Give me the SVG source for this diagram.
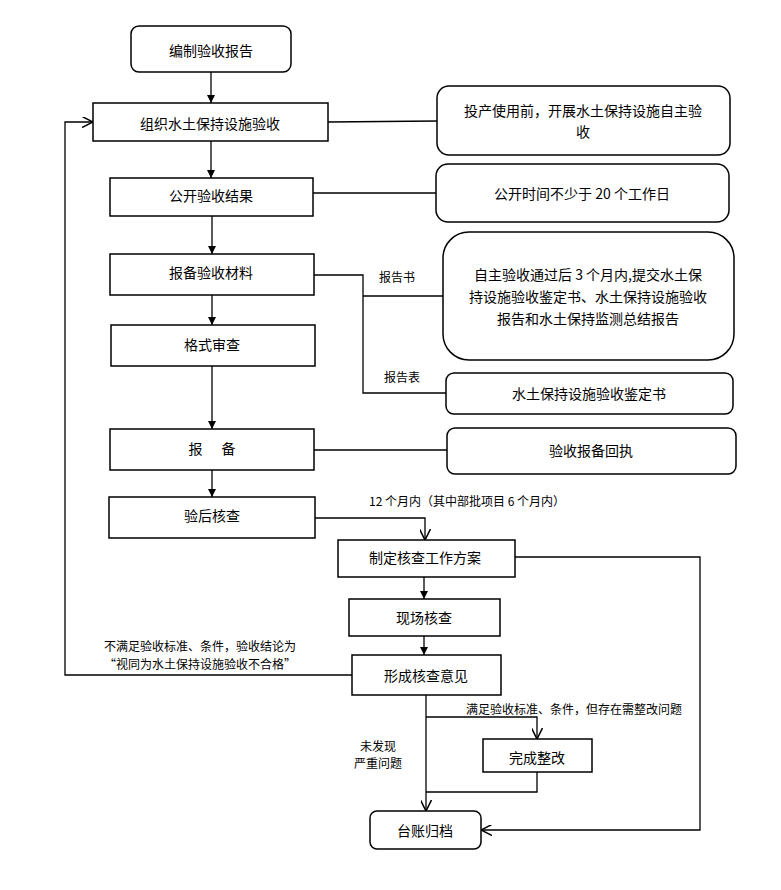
<svg xmlns="http://www.w3.org/2000/svg" width="781" height="890" viewBox="0 0 781 890">
<defs>
<marker id="fa" viewBox="0 0 10 10" refX="10" refY="5" markerWidth="8" markerHeight="8" markerUnits="userSpaceOnUse" orient="auto"><path d="M0,0 L10,5 L0,10 z" fill="#000"/></marker>
<marker id="oa" viewBox="0 0 10 10" refX="10" refY="5" markerWidth="11" markerHeight="11" markerUnits="userSpaceOnUse" orient="auto"><path d="M0,0 L10,5 L0,10" fill="none" stroke="#000" stroke-width="1.4"/></marker>
</defs>
<style>
rect{fill:#fff;stroke:#000;stroke-width:1.5}
text{font-family:"Noto Sans CJK SC","Liberation Sans",sans-serif;font-size:14px;fill:#000;text-anchor:middle;dominant-baseline:central}
.s{font-size:12px}
.l{fill:none;stroke:#000;stroke-width:1.3}
</style>
<rect width="781" height="890" style="fill:#fff;stroke:none"/>
<g id="n1"><rect x="131" y="26" width="160" height="46" rx="8"/><text x="211" y="50">编制验收报告</text></g>
<g id="n2"><rect x="93" y="103" width="235" height="38"/><text x="210" y="123">组织水土保持设施验收</text></g>
<g id="r1"><rect x="437" y="86" width="293" height="69" rx="12"/><text x="583" y="110">投产使用前，开展水土保持设施自主验</text><text x="583" y="131">收</text></g>
<g id="n3"><rect x="110" y="178" width="203" height="38"/><text x="211" y="195">公开验收结果</text></g>
<g id="r2"><rect x="436" y="164" width="293" height="58" rx="12"/><text x="582" y="193">公开时间不少于 20 个工作日</text></g>
<g id="n4"><rect x="110" y="254" width="204" height="41"/><text x="211" y="272">报备验收材料</text></g>
<g id="r3"><rect x="443" y="232" width="291" height="128" rx="26"/><text x="588" y="274">自主验收通过后 3 个月内,提交水土保</text><text x="588" y="296">持设施验收鉴定书、水土保持设施验收</text><text x="588" y="318">报告和水土保持监测总结报告</text></g>
<g id="n5"><rect x="111" y="325" width="204" height="41"/><text x="212" y="344">格式审查</text></g>
<g id="r4"><rect x="446" y="373" width="287" height="41" rx="8"/><text x="589" y="393">水土保持设施验收鉴定书</text></g>
<g id="n6"><rect x="110" y="429" width="204" height="41"/><text x="212" y="448" xml:space="preserve">报      备</text></g>
<g id="r5"><rect x="447" y="428" width="289" height="46" rx="8"/><text x="591" y="450">验收报备回执</text></g>
<g id="n7"><rect x="109" y="497" width="206" height="41"/><text x="212" y="515">验后核查</text></g>
<g id="n8"><rect x="338" y="540" width="177" height="37"/><text x="425" y="557">制定核查工作方案</text></g>
<g id="n9"><rect x="349" y="599" width="151" height="37"/><text x="424" y="617">现场核查</text></g>
<g id="n10"><rect x="352" y="655" width="149" height="40"/><text x="426" y="675">形成核查意见</text></g>
<g id="n11"><rect x="483" y="739" width="109" height="33"/><text x="537" y="757">完成整改</text></g>
<g id="n12"><rect x="370" y="811" width="111" height="38" rx="7"/><text x="425" y="830">台账归档</text></g>
<g id="connectors">
<path class="l" d="M211,72 V103" marker-end="url(#fa)"/>
<path class="l" d="M211,141 V178" marker-end="url(#fa)"/>
<path class="l" d="M212,216 V254" marker-end="url(#fa)"/>
<path class="l" d="M212,295 V325" marker-end="url(#fa)"/>
<path class="l" d="M212,366 V429" marker-end="url(#fa)"/>
<path class="l" d="M212,470 V497" marker-end="url(#fa)"/>
<path class="l" d="M328,122 L437,121"/>
<path class="l" d="M313,193 H436"/>
<path class="l" d="M314,275 H363 V393 H446 M363,296 H443"/>
<path class="l" d="M314,450 H447"/>
<path class="l" d="M315,518 H425 V540" marker-end="url(#oa)"/>
<path class="l" d="M424,577 V599" marker-end="url(#fa)"/>
<path class="l" d="M424,636 V655" marker-end="url(#fa)"/>
<path class="l" d="M352,675 H65 V122 H93" marker-end="url(#oa)"/>
<path class="l" d="M515,557 H700 V830 H481" marker-end="url(#oa)"/>
<path class="l" d="M426,695 V811" marker-end="url(#oa)"/>
<path class="l" d="M426,717 H537 V739" marker-end="url(#oa)"/>
<path class="l" d="M537,772 V792 H426"/>
<text class="s" x="397" y="276">报告书</text>
<text class="s" x="402" y="376">报告表</text>
<text class="s" x="467" y="500">12 个月内（其中部批项目 6 个月内）</text>
<text class="s" x="200" y="645">不满足验收标准、条件，验收结论为</text>
<text class="s" x="200" y="663">“视同为水土保持设施验收不合格”</text>
<text class="s" x="574" y="708">满足验收标准、条件，但存在需整改问题</text>
<text class="s" x="378" y="745">未发现</text>
<text class="s" x="378" y="762">严重问题</text>
</g>
</svg>
